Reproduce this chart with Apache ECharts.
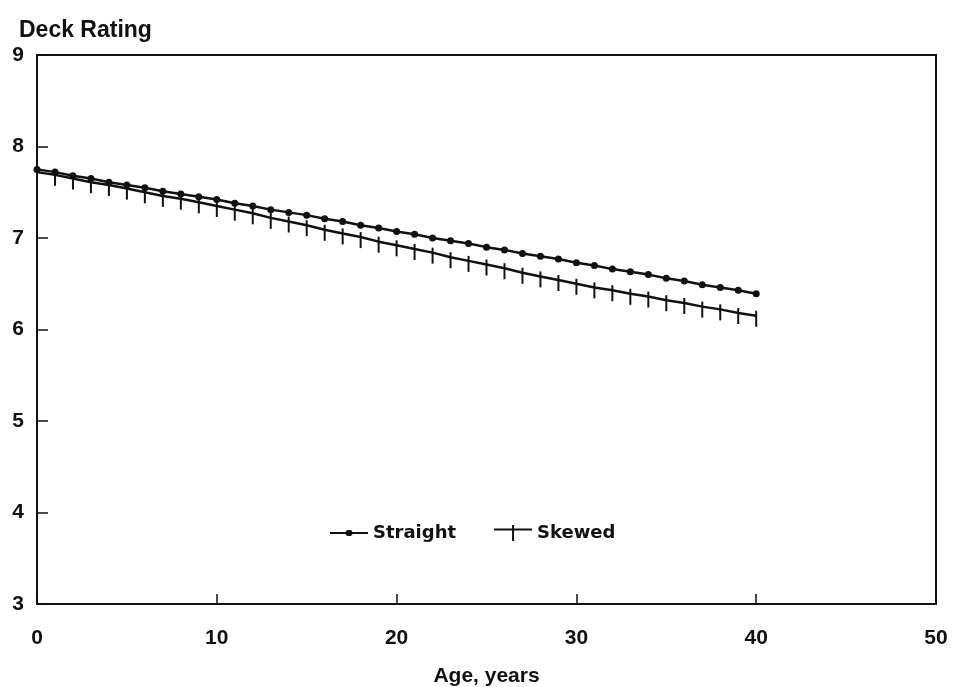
<!DOCTYPE html>
<html>
<head>
<meta charset="utf-8">
<script src="https://cdn.jsdelivr.net/npm/echarts@6/dist/echarts.min.js"></script>
<style>
  html, body { margin: 0; padding: 0; background: #fff; }
  #chart { width: 954px; height: 687px; }
</style>
</head>
<body>
<div id="chart"></div>
<script>
// age in years, one point per year
var ages = [];
for (var a = 0; a <= 40; a++) ages.push(a);

var straight = [7.75, 7.72, 7.68, 7.65, 7.61, 7.58, 7.55, 7.51, 7.48, 7.45,
  7.42, 7.38, 7.35, 7.31, 7.28, 7.25, 7.21, 7.18, 7.14, 7.11,
  7.07, 7.04, 7.00, 6.97, 6.94, 6.90, 6.87, 6.83, 6.80, 6.77,
  6.73, 6.70, 6.66, 6.63, 6.60, 6.56, 6.53, 6.49, 6.46, 6.43, 6.39];
var skewed = [7.72, 7.69, 7.65, 7.61, 7.58, 7.54, 7.50, 7.46, 7.43, 7.39,
  7.35, 7.31, 7.27, 7.22, 7.18, 7.14, 7.09, 7.05, 7.01, 6.96,
  6.92, 6.88, 6.84, 6.79, 6.75, 6.71, 6.67, 6.62, 6.58, 6.54,
  6.50, 6.46, 6.43, 6.39, 6.36, 6.32, 6.29, 6.25, 6.22, 6.18, 6.15];

var pairs = function(ys) {
  return ages.map(function(x, i) { return [x, ys[i]]; });
};

var font = "'Liberation Sans', Arial, sans-serif";
var ink = "#111";

// legend icons, 38 x 16 box: line with a dot / line with a tick
var dotIcon = "path://M0,7H15.5L17,5H21L22.5,7H38V9H22.5L21,11H17L15.5,9H0Z" +
  "M0,0H0.01V0.01H0ZM38,16H37.99V15.99H38Z";
var plusIcon = "path://M0,3.5H18V0H20V3.5H38V5.5H20V16H18V5.5H0Z";

var myChart = echarts.init(document.getElementById("chart"));
var option = {
  animation: false,
  backgroundColor: "#fff",
  title: {
    text: "Deck Rating",
    left: 14,
    top: 14,
    textStyle: { fontFamily: font, fontWeight: "bold", fontSize: 23, color: ink }
  },
  legend: {
    left: 330,
    top: 524,
    padding: 0,
    itemWidth: 38,
    itemHeight: 16,
    itemGap: 38,
    textStyle: { fontFamily: "'DejaVu Sans', sans-serif", fontWeight: "bold", fontSize: 18, color: ink },
    data: [
      { name: "Straight", icon: dotIcon },
      { name: "Skewed", icon: plusIcon }
    ]
  },
  grid: {
    left: 37,
    right: 18,
    top: 55,
    bottom: 83,
    outerBoundsMode: "none",
    show: true,
    borderColor: ink,
    borderWidth: 2,
    backgroundColor: "transparent"
  },
  xAxis: {
    type: "value",
    min: 0,
    max: 50,
    interval: 10,
    name: "Age, years",
    nameLocation: "middle",
    nameGap: 62,
    nameTextStyle: { fontFamily: font, fontWeight: "bold", fontSize: 21, color: ink },
    axisLine: { lineStyle: { color: ink, width: 2 } },
    axisTick: { inside: true, length: 10, lineStyle: { color: ink, width: 1.5 } },
    axisLabel: { margin: 24, fontFamily: font, fontWeight: "bold", fontSize: 21, color: ink },
    splitLine: { show: false }
  },
  yAxis: {
    type: "value",
    min: 3,
    max: 9,
    interval: 1,
    axisLine: { show: true, lineStyle: { color: ink, width: 2 } },
    axisTick: { show: true, inside: true, length: 11, lineStyle: { color: ink, width: 1.5 } },
    axisLabel: { margin: 13, fontFamily: font, fontWeight: "bold", fontSize: 21, color: ink },
    splitLine: { show: false }
  },
  series: [
    {
      name: "Straight",
      type: "line",
      data: pairs(straight),
      symbol: "circle",
      symbolSize: 7,
      showAllSymbol: true,
      itemStyle: { color: ink },
      lineStyle: { color: ink, width: 2.5 }
    },
    {
      name: "Skewed",
      type: "line",
      data: pairs(skewed),
      symbol: "rect",
      symbolSize: [2, 16],
      symbolOffset: [0, 3],
      showAllSymbol: true,
      itemStyle: { color: ink },
      lineStyle: { color: ink, width: 2.5 }
    }
  ]
};
myChart.setOption(option);
</script>
</body>
</html>
